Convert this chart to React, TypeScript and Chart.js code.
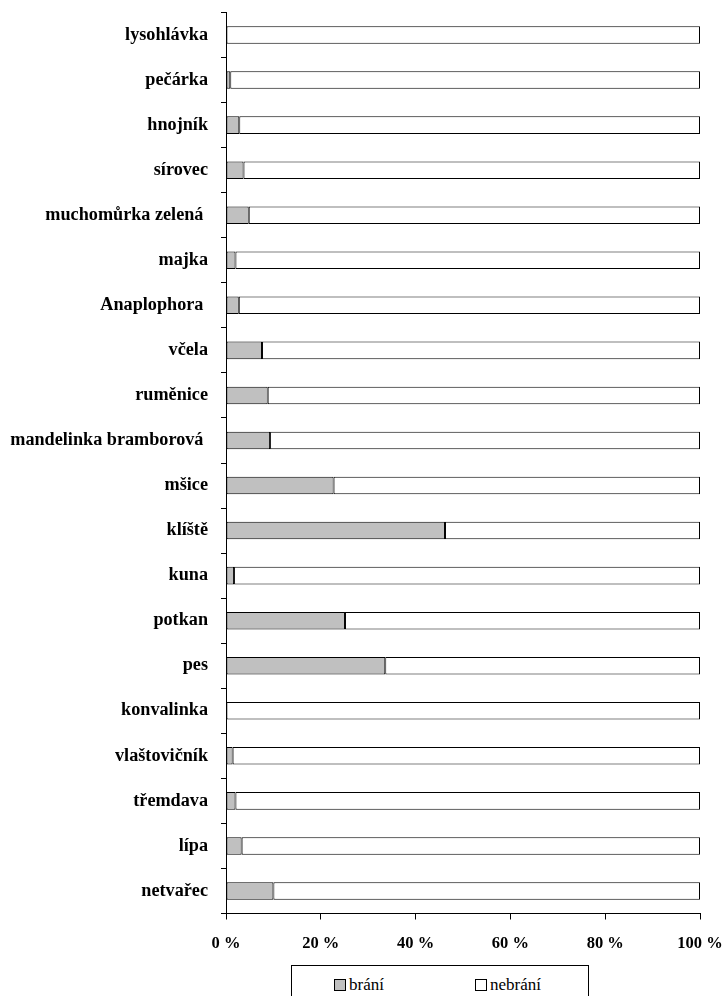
import React, { useEffect, useRef } from 'react';
import { Chart, registerables } from 'chart.js';

Chart.register(...registerables);

const categories = [
  'lysohlávka',
  'pečárka',
  'hnojník',
  'sírovec',
  'muchomůrka zelená ',
  'majka',
  'Anaplophora ',
  'včela',
  'ruměnice',
  'mandelinka bramborová ',
  'mšice',
  'klíště',
  'kuna',
  'potkan',
  'pes',
  'konvalinka',
  'vlaštovičník',
  'třemdava',
  'lípa',
  'netvařec',
];

const braniValues = [0, 0.9, 2.8, 3.7, 4.8, 2.0, 2.7, 7.6, 8.8, 9.3, 22.7, 46.2, 1.7, 25.1, 33.6, 0, 1.4, 2.0, 3.3, 10.0];
const nebraniValues = [100, 99.1, 97.2, 96.3, 95.2, 98.0, 97.3, 92.4, 91.2, 90.7, 77.3, 53.8, 98.3, 74.9, 66.4, 100, 98.6, 98.0, 96.7, 90.0];

const xTickLabels = ['0 %', '20 %', '40 %', '60 %', '80 %', '100 %'];
const seriesNames = ['brání', 'nebrání'];
const seriesColors = ['#c0c0c0', '#ffffff'];

const SERIF = '"Liberation Serif", "Times New Roman", serif';

export default function App() {
  const canvasRef = useRef<HTMLCanvasElement | null>(null);

  useEffect(() => {
    if (!canvasRef.current) return;
    const chart = new Chart(canvasRef.current, {
      type: 'bar',
      data: {
        labels: categories,
        datasets: [
          {
            label: seriesNames[0],
            data: braniValues,
            backgroundColor: seriesColors[0],
            borderColor: '#000000',
            borderWidth: 1,
            borderSkipped: false,
            barPercentage: 0.39,
            categoryPercentage: 1,
          },
          {
            label: seriesNames[1],
            data: nebraniValues,
            backgroundColor: seriesColors[1],
            borderColor: '#000000',
            borderWidth: 1,
            borderSkipped: false,
            barPercentage: 0.39,
            categoryPercentage: 1,
          },
        ],
      },
      options: {
        indexAxis: 'y',
        animation: false,
        responsive: false,
        maintainAspectRatio: false,
        layout: { padding: { top: 12.5, right: 27, bottom: 0, left: 0 } },
        plugins: {
          legend: { display: false },
          tooltip: { enabled: false },
        },
        scales: {
          x: {
            stacked: true,
            min: 0,
            max: 100,
            afterFit: (s: any) => {
              s.height = 46.5;
              s.paddingLeft = 0;
              s.paddingRight = 0;
            },
            ticks: {
              stepSize: 20,
              color: '#000000',
              padding: 14,
              maxRotation: 0,
              font: { family: SERIF, size: 16.5, weight: 'bold' },
              callback: (v: any) => xTickLabels[Math.round(Number(v) / 20)],
            },
            grid: {
              display: true,
              drawOnChartArea: false,
              drawTicks: true,
              tickLength: 6,
              color: '#000000',
            },
            border: { display: true, color: '#000000', width: 1 },
          },
          y: {
            stacked: true,
            afterFit: (s: any) => {
              s.width = 226;
              s.paddingTop = 0;
              s.paddingBottom = 0;
            },
            ticks: {
              color: '#000000',
              padding: 13,
              autoSkip: false,
              font: { family: SERIF, size: 18.2, weight: 'bold' },
            },
            grid: {
              display: true,
              drawOnChartArea: false,
              drawTicks: true,
              tickLength: 5,
              color: '#000000',
            },
            border: { display: true, color: '#000000', width: 1 },
          },
        },
      },
    });
    return () => chart.destroy();
  }, []);

  const legendItem = (i: number, left: number) => (
    <div
      key={i}
      style={{ position: 'absolute', left, top: 10, display: 'flex', alignItems: 'center', height: 18 }}
    >
      <span
        style={{
          display: 'inline-block',
          width: 12,
          height: 12,
          background: seriesColors[i],
          border: '1px solid #000',
          boxSizing: 'border-box',
          marginRight: 3,
        }}
      />
      <span style={{ fontFamily: SERIF, fontSize: 17, color: '#000', lineHeight: '18px' }}>{seriesNames[i]}</span>
    </div>
  );

  return (
    <div style={{ position: 'absolute', left: 0, top: 0, width: 727, height: 996, background: '#fff', overflow: 'hidden' }}>
      <canvas ref={canvasRef} width={727} height={960} style={{ position: 'absolute', left: 0, top: 0, width: 727, height: 960 }} />
      <div
        style={{
          position: 'absolute',
          left: 291,
          top: 965,
          width: 298,
          height: 45,
          border: '1px solid #000',
          boxSizing: 'border-box',
          background: '#fff',
        }}
      >
        {legendItem(0, 42)}
        {legendItem(1, 183)}
      </div>
    </div>
  );
}
